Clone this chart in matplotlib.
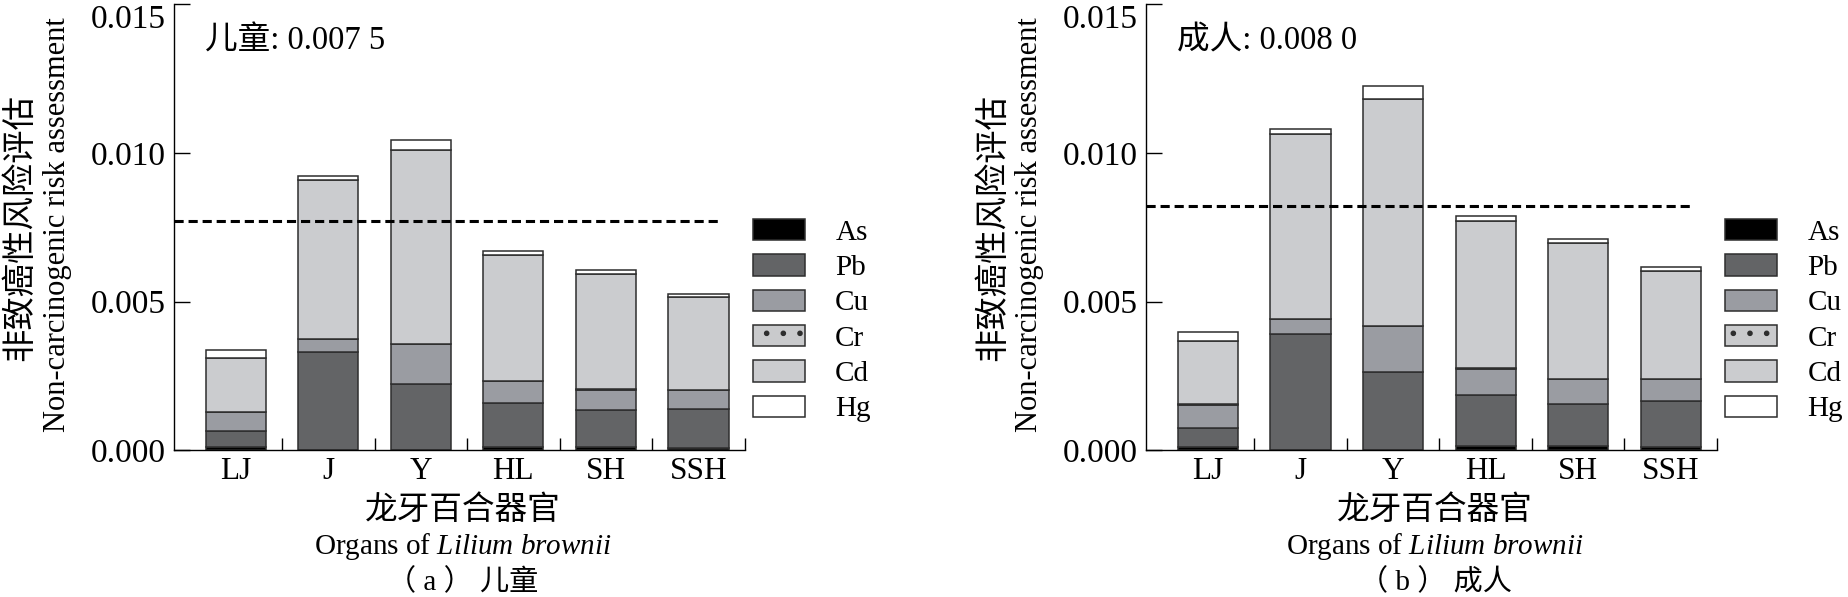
import numpy as np
import matplotlib
matplotlib.use("Agg")
import matplotlib.pyplot as plt
from matplotlib.ticker import FormatStrFormatter

plt.rcParams['font.family'] = ['Liberation Serif', 'Noto Sans CJK SC']
plt.rcParams['mathtext.fontset'] = 'custom'
plt.rcParams['mathtext.rm'] = 'Liberation Serif'
plt.rcParams['mathtext.it'] = 'Liberation Serif:italic'
plt.rcParams['hatch.linewidth'] = 1.6

organs = ['LJ', 'J', 'Y', 'HL', 'SH', 'SSH']
metals = ['As', 'Pb', 'Cu', 'Cr', 'Cd', 'Hg']

# children
child_as = [0.00010, 0.00002, 0.00002, 0.00012, 0.00010, 0.00008]
child_pb = [0.00054, 0.00329, 0.00220, 0.00146, 0.00124, 0.00131]
child_cu = [0.00064, 0.00043, 0.00134, 0.00074, 0.00070, 0.00063]
child_cr = [0.00001, 0.00001, 0.00001, 0.00001, 0.00001, 0.00001]
child_cd = [0.00183, 0.00533, 0.00652, 0.00424, 0.00389, 0.00311]
child_hg = [0.00027, 0.00013, 0.00035, 0.00012, 0.00011, 0.00012]
child_line = 0.0077

# adults
adult_as = [0.00012, 0.00002, 0.00002, 0.00015, 0.00015, 0.00010]
adult_pb = [0.00064, 0.00390, 0.00262, 0.00172, 0.00142, 0.00156]
adult_cu = [0.00078, 0.00049, 0.00153, 0.00088, 0.00083, 0.00073]
adult_cr = [0.00001, 0.00001, 0.00001, 0.00001, 0.00001, 0.00001]
adult_cd = [0.00211, 0.00621, 0.00764, 0.00494, 0.00456, 0.00364]
adult_hg = [0.00031, 0.00018, 0.00042, 0.00019, 0.00013, 0.00014]
adult_line = 0.0082

colors = ['#000000', '#636466', '#9a9ca2', '#c9cacc', '#cbcccf', '#ffffff']
hatches = [None, None, None, '.', None, None]

W, H = 1848, 597
fig = plt.figure(figsize=(W / 100, H / 100), dpi=100)


def draw_panel(left_px, series, line_y, note, caption):
    x0 = left_px / W
    ax = fig.add_axes([x0, 1 - 450.3 / H, 571 / W, 446 / H])
    x = np.arange(len(organs))
    bottom = np.zeros(len(organs))
    handles = []
    for vals, c, h in zip(series, colors, hatches):
        b = ax.bar(x, vals, 0.65, bottom=bottom, color=c, hatch=h,
                   edgecolor='#2e2e2e', linewidth=1.1)
        handles.append(b)
        bottom = bottom + np.array(vals)

    ax.plot([-0.67, 5.25], [line_y, line_y], color='black', lw=2.2,
            dashes=(3, 1.6))

    ax.set_xlim(-0.67, 5.5)
    ax.set_ylim(0, 0.015)
    ax.set_yticks([0, 0.005, 0.010, 0.015])
    ax.yaxis.set_major_formatter(FormatStrFormatter('%.3f'))
    ax.tick_params(axis='y', direction='in', length=11.5, width=1.0,
                   labelsize=24, pad=6)
    ax.get_yticklabels()[-1].set_va('top')
    ax.set_xticks(x)
    ax.set_xticklabels(organs)
    ax.set_xticks(x + 0.5, minor=True)
    ax.tick_params(axis='x', which='major', length=0, labelsize=22.5, pad=5)
    ax.tick_params(axis='x', which='minor', direction='in', length=8.5,
                   width=1.0)
    for s in ['top', 'right']:
        ax.spines[s].set_visible(False)
    for s in ['left', 'bottom']:
        ax.spines[s].set_linewidth(1.0)

    ax.legend(handles, metals, loc='upper left',
              bbox_to_anchor=((left_px + 579) / W, 1 - 219 / H),
              bbox_transform=fig.transFigure, frameon=False, fontsize=21,
              handlelength=1.78, handleheight=0.75, handletextpad=1.05,
              labelspacing=0.29, borderpad=0, borderaxespad=0)

    fig.text((left_px + 31) / W, 1 - 50 / H, note, fontsize=23.5,
             va='baseline', ha='left')
    fig.text((left_px - 153) / W, 0.619, '非致癌性风险评估', fontsize=24,
             rotation=90, ha='center', va='center')
    fig.text((left_px - 116) / W, 0.623, 'Non-carcinogenic risk assessment',
             fontsize=22, rotation=90, ha='center', va='center')
    cx = (left_px + 289) / W
    fig.text(cx, 1 - 511 / H, '龙牙百合器官', fontsize=23.5,
             ha='center', va='center')
    fig.text(cx, 1 - 553.5 / H, r'Organs of $\mathit{Lilium\ brownii}$',
             fontsize=21, ha='center', va='baseline')
    fig.text(cx, 1 - 582 / H, caption, fontsize=21, ha='center', va='center')


draw_panel(173.7, [child_as, child_pb, child_cu, child_cr, child_cd, child_hg],
           child_line, '儿童: 0.007 5', '（ a ） 儿童')
draw_panel(1146, [adult_as, adult_pb, adult_cu, adult_cr, adult_cd, adult_hg],
           adult_line, '成人: 0.008 0', '（ b ） 成人')

fig.savefig('out.png', dpi=100)
